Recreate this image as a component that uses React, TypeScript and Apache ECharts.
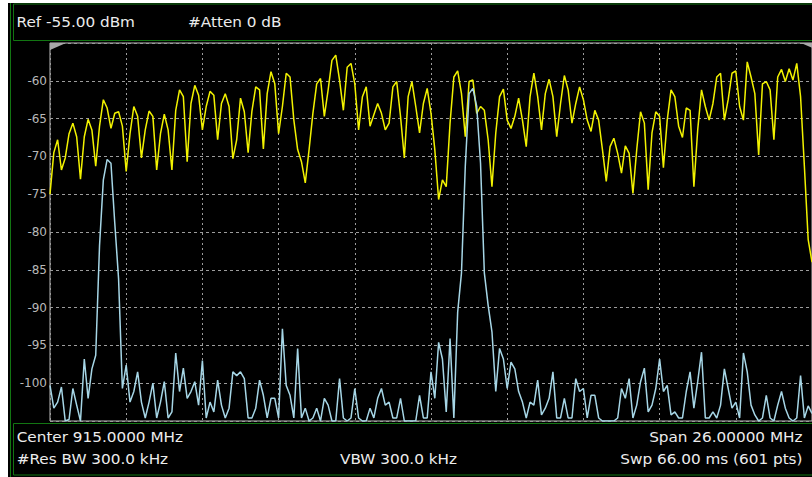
import React, { useEffect, useRef } from "react";
import * as echarts from "echarts";

// Sweep: 601 points, traces read every 3rd point (0..600)
const SAMPLE_STEP = 3;
const SWEEP_LAST = 600;

const yellowTrace = [
  -75, -69.5, -67.8, -71.8, -70.2, -67, -65.6, -67.4, -73, -67.4,
  -65.1, -66.5, -71.3, -66, -62.5, -63.6, -66.3, -64.3, -64.1, -66,
  -72, -67, -63.4, -64.7, -70.2, -66.5, -64, -64.7, -71.8, -67,
  -64.4, -66.5, -71.8, -63.9, -61.2, -62.1, -70.7, -63, -60.6, -61.9,
  -66.5, -63.4, -61.4, -61.9, -67.8, -63, -61.7, -63.4, -70.3, -67.8,
  -62.3, -64.1, -69.5, -64, -60.8, -61.2, -69, -61.7, -58.8, -60.4,
  -67, -63.4, -59, -59.5, -65.2, -69.1, -70.7, -73.5, -69.1, -64.3,
  -60.4, -59.7, -64.7, -61.2, -57.3, -56.6, -59.9, -63.9, -58.2, -57.7,
  -60.4, -66.5, -62.1, -60.8, -66, -64.5, -63, -64.3, -66.5, -65.6,
  -60.8, -60.1, -64.7, -70.2, -62.1, -60.1, -63.4, -66.9, -63, -61,
  -64.3, -69.1, -75.7, -73.1, -74, -65.6, -59.5, -58.7, -61.7, -67.4,
  -60.1, -59.9, -64.3, -63.4, -63.9, -67.8, -74, -66.9, -62.1, -61.1,
  -65.2, -66.3, -64.7, -62.3, -65.2, -68.7, -62.1, -59, -62.1, -66.5,
  -61.7, -59.8, -62.1, -67.4, -63, -59.3, -61.2, -65.6, -63, -60.8,
  -62.5, -65.2, -66.7, -63.9, -65.2, -69.1, -73.3, -68.7, -67.6, -69.6,
  -72.2, -68.6, -69.6, -74.9, -69.1, -64.1, -65.6, -74.4, -66.9, -64.1,
  -64.7, -71.5, -65.2, -61.2, -62.1, -66, -67.5, -63.6, -63.9, -74,
  -66.5, -61.2, -63.4, -65.2, -63, -59.5, -59, -65.2, -62.5, -59,
  -58.7, -63.4, -65.2, -57.5, -59.5, -61.7, -69.8, -60.4, -60.1, -61.2,
  -67.8, -59.5, -58.5, -60.1, -58.4, -59.9, -57.7, -62.1, -71.3, -81,
  -84,
];

const blueTrace = [
  -100.3, -103.3, -102.5, -100.5, -105, -104.8, -100.7, -102.9, -105, -96.8,
  -102, -98.1, -96.3, -81.8, -73.1, -70.4, -70.9, -78.8, -86.2, -100.7,
  -97.6, -102.5, -101.1, -98.5, -102.5, -104.6, -102.5, -100, -104.6, -102.5,
  -99.8, -104.6, -103.8, -96, -101.1, -98, -102, -101.1, -99.8, -102.9,
  -97, -104.6, -102.5, -103.8, -99.6, -102.9, -104.6, -103.3, -98.5, -99,
  -98.5, -99.4, -104.6, -104.6, -103.3, -99.6, -101.6, -104.6, -102, -102,
  -104.6, -92.8, -100.3, -101.6, -104.6, -95.4, -104.6, -103.3, -105, -104.6,
  -103.3, -105, -102, -102.9, -105, -105, -99.4, -104.6, -105, -104.6,
  -100.7, -104.6, -105, -105, -103.3, -104.6, -102, -100.7, -102.9, -102.5,
  -104.6, -104.6, -102, -105, -105, -105, -105, -101.6, -104.6, -104.6,
  -98.5, -102, -94.6, -96.8, -103.8, -94.1, -104.6, -90.6, -85.4, -71.3,
  -61.7, -61, -63.4, -70.9, -85.4, -89.7, -93.2, -101.1, -95.4, -96.8,
  -100.7, -97.2, -98.1, -101.1, -102.5, -104.6, -102.5, -102.9, -99.6, -104.2,
  -103.3, -102, -98.5, -104.6, -104.6, -102, -104.6, -104.6, -99.4, -101.1,
  -100.7, -104.6, -101.6, -101.6, -104.6, -105, -105, -105, -105, -104.6,
  -100.7, -102, -99.4, -104.6, -102.9, -99.8, -98, -103.8, -102.9, -100.7,
  -96.8, -101.1, -100.3, -104.2, -103.8, -104.6, -104.6, -101.1, -98.5, -103.3,
  -99.8, -95.9, -104.6, -104.6, -103.8, -104.6, -102.9, -98.1, -100.7, -103.3,
  -102.5, -104.6, -96, -98.5, -102.9, -104.2, -105, -104.6, -101.6, -104.6,
  -105, -102.9, -101.1, -103.3, -104.6, -105, -104.6, -99, -104.6, -103,
  -104,
];

const REF_LEVEL = -55;
const BOTTOM_LEVEL = -105;
const DB_PER_DIV = 5;

const headerLeft = "Ref -55.00 dBm";
const headerAtten = "#Atten 0 dB";
const footerCenter = "Center 915.0000 MHz";
const footerRbw = "#Res BW 300.0 kHz";
const footerVbw = "VBW 300.0 kHz";
const footerSpan = "Span 26.00000 MHz";
const footerSwp = "Swp 66.00 ms (601 pts)";

const OX = 8;
const OY = 3;

export default function App() {
  const ref = useRef<HTMLDivElement>(null);

  useEffect(() => {
    if (!ref.current) return;
    const chart = echarts.init(ref.current, undefined, { renderer: "svg" });
    const font = '14px "DejaVu Sans"';
    const txt = (text: string, px: number, py: number, align: string, color = "#ececec") => ({
      type: "text",
      x: px - OX,
      y: py - OY,
      scaleX: 1.09,
      z: 10,
      style: { text, fill: color, font, align, verticalAlign: "middle" },
    });
    const green = "#127512";
    chart.setOption({
      animation: false,
      backgroundColor: "#000000",
      grid: {
        left: 50 - OX,
        top: 43 - OY,
        width: 767,
        height: 378,
        show: true,
        borderColor: "#bdbdbd",
        borderWidth: 1,
        backgroundColor: "transparent",
      },
      xAxis: {
        type: "value",
        min: 0,
        max: SWEEP_LAST,
        interval: 60,
        axisLabel: { show: false },
        axisTick: { show: false },
        axisLine: { show: false },
        splitLine: { show: true, lineStyle: { color: "#9c9c9c", type: [2, 3], width: 1 } },
      },
      yAxis: {
        type: "value",
        min: BOTTOM_LEVEL,
        max: REF_LEVEL,
        interval: DB_PER_DIV,
        axisLine: { show: false },
        axisTick: { show: false },
        axisLabel: {
          color: "#b8b8b8",
          fontSize: 12,
          fontFamily: "DejaVu Sans",
          margin: 3,
          formatter: (v: number) => (v === REF_LEVEL || v === BOTTOM_LEVEL ? "" : String(v)),
        },
        splitLine: { show: true, lineStyle: { color: "#9c9c9c", type: [3, 3], width: 1 } },
      },
      series: [
        {
          type: "line",
          data: yellowTrace.map((v, i) => [i * SAMPLE_STEP, v]),
          showSymbol: false,
          lineStyle: { color: "#f2f200", width: 1.5 },
          z: 3,
        },
        {
          type: "line",
          data: blueTrace.map((v, i) => [i * SAMPLE_STEP, v]),
          showSymbol: false,
          lineStyle: { color: "#a6d6e6", width: 1.5 },
          z: 4,
        },
      ],
      graphic: [
        { type: "line", shape: { x1: 10.5 - OX, y1: 0, x2: 10.5 - OX, y2: 474 }, style: { stroke: green, lineWidth: 1 }, z: 10 },
        { type: "rect", shape: { x: 13.5 - OX, y: 3.5 - OY + 0.5, width: 900, height: 36.5 }, style: { fill: "none", stroke: green, lineWidth: 1 }, z: 10 },
        { type: "rect", shape: { x: 13.5 - OX, y: 423.5 - OY, width: 900, height: 51.5 }, style: { fill: "none", stroke: green, lineWidth: 1 }, z: 10 },
        { type: "polygon", shape: { points: [[50 - OX, 43 - OY], [66 - OX, 43 - OY], [50 - OX, 50 - OY]] }, style: { fill: "#a8a8a8" }, z: 10 },
        { type: "polygon", shape: { points: [[817 - OX, 43 - OY], [801 - OX, 43 - OY], [817 - OX, 50 - OY]] }, style: { fill: "#a8a8a8" }, z: 10 },
        txt(headerLeft, 16.5, 22, "left"),
        txt(headerAtten, 188, 22, "left"),
        txt(footerCenter, 16.7, 437, "left"),
        txt(footerRbw, 16.7, 458.5, "left"),
        txt(footerVbw, 340, 458.5, "left"),
        txt(footerSpan, 802.5, 437, "right"),
        txt(footerSwp, 802.5, 458.5, "right"),
      ],
    });
    return () => chart.dispose();
  }, []);

  return (
    <div style={{ position: "fixed", left: 0, top: 0, width: 812, height: 477, background: "#ffffff", overflow: "hidden" }}>
      <div ref={ref} style={{ position: "absolute", left: OX, top: OY, width: 812 - OX, height: 477 - OY }} />
    </div>
  );
}
